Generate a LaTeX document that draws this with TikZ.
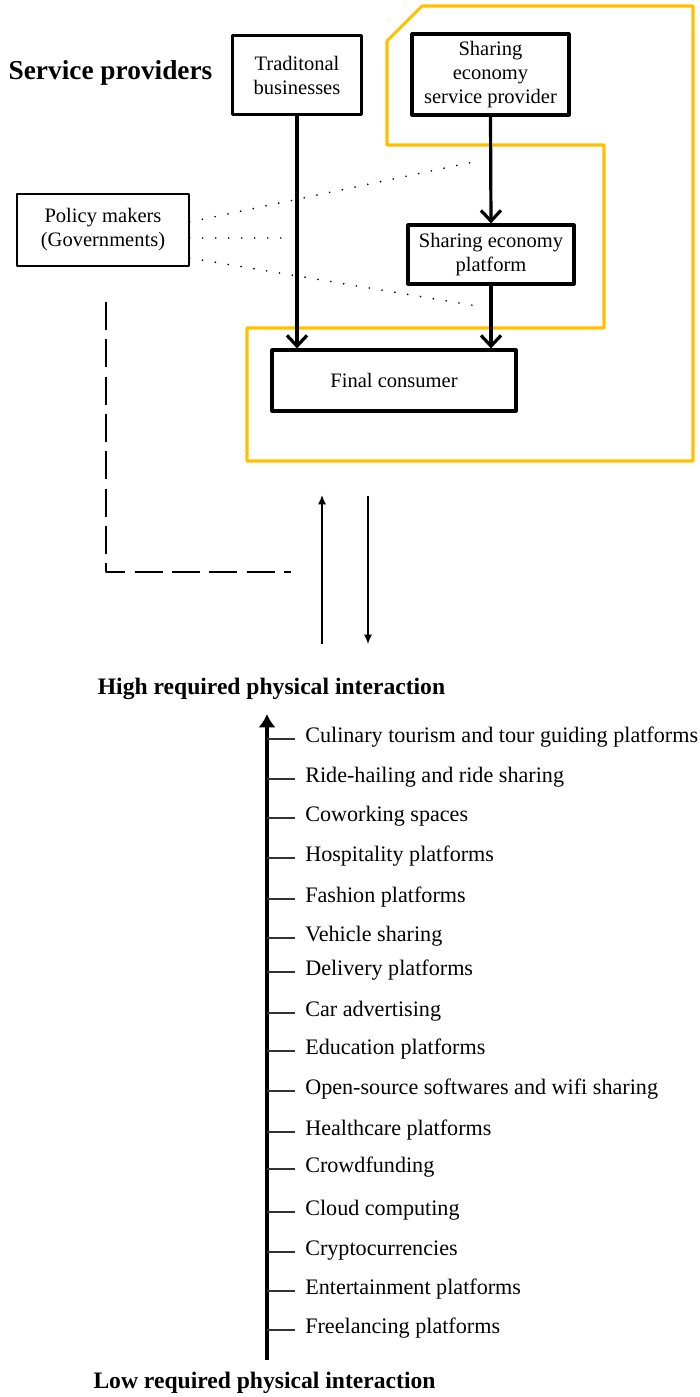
\documentclass[tikz,border=0pt]{standalone}
\usepackage{fontspec}
\setmainfont{Liberation Serif}
\usetikzlibrary{arrows.meta}
\definecolor{gold}{RGB}{255,192,0}

\begin{document}
\begin{tikzpicture}[x=0.75pt,y=-0.75pt, line join=round,
	box/.style={draw,line width=2.4pt,align=center,inner sep=0pt,font=\fontsize{15.4}{18}\selectfont},
	flow/.style={line width=2.4pt,-{Straight Barb[length=8pt,width=15pt]}},
	dotline/.style={line width=1.4pt,line cap=round,dash pattern=on 0pt off 9.75pt},
	thinarr/.style={line width=1pt,-{Latex[length=7pt,width=6pt]}},
	item/.style={anchor=west,inner xsep=7.5pt,inner ysep=0pt,font=\fontsize{16.6}{20}\selectfont,text height=0.7em,text depth=0.2em},
	head/.style={inner sep=0pt,font=\bfseries,text height=0.7em,text depth=0.2em}] %Sharing economy map
	\useasboundingbox (0,0) rectangle (700,1397);
	\draw[gold,line width=2.3pt] (387,41)--(422,6)--(693,6)--(693,461)--(247,461)--(247,328)--(604,328)--(604,145)--(387,145)--cycle;
	\node[head,font=\fontsize{20.5}{24}\selectfont\bfseries] (sp) at (110.5,76) {Service providers};
	\node[box,minimum width=96.75pt,minimum height=59.25pt] (trad) at (297,75) {Traditonal\\businesses};
	\node[box,minimum width=117.75pt,minimum height=60.75pt] (sesp) at (490.5,74.5) {Sharing\\economy\\service provider};
	\node[box,minimum width=124.5pt,minimum height=44.25pt] (sep) at (491,254.5) {Sharing economy\\platform};
	\node[box,minimum width=183pt,minimum height=45.75pt] (fc) at (394,380.5) {Final consumer};
	\node[box,line width=1.1pt,minimum width=129pt,minimum height=54pt] (pm) at (103,230) {Policy makers\\(Governments)};
	\draw[flow] (trad.south)--(trad.south |- fc.north);
	\draw[flow] (sesp.south)--(sep.north);
	\draw[flow] (sep.south)--(sep.south |- fc.north);
	% dotted links of the policy makers
	\coordinate (p1) at (478,161);
	\coordinate (p2) at (290,238);
	\coordinate (p3) at (477,306);
	\draw[dotline] ([yshift=6pt]pm.east)--(p1);
	\draw[dotline] ([yshift=-6pt]pm.east)--(p2);
	\draw[dotline] ([yshift=-21pt]pm.east)--(p3);
	\coordinate (g1) at (106,302);
	\coordinate (g2) at (291,572);
	\draw[line width=1.1pt,dash pattern=on 21pt off 7pt] (g1) |- (g2);
	\coordinate (u1) at (322,644);
	\coordinate (u2) at (322,495);
	\coordinate (d1) at (368,496);
	\coordinate (d2) at (368,644);
	\draw[thinarr] (u1)--(u2);
	\draw[thinarr] (d1)--(d2);
	% scale of physical interaction
	\node[head,font=\fontsize{17.7}{21}\selectfont\bfseries] (hi) at (271.5,691) {High required physical interaction};
	\node[head,font=\fontsize{17.7}{21}\selectfont\bfseries] (lo) at (264.5,1385) {Low required physical interaction};
	\coordinate (ax0) at (267,1360);
	\coordinate (ax1) at (267,714);
	\draw[line width=3pt,-{Latex[length=10pt,width=13pt]}] (ax0)--(ax1);
	\foreach \y/\t [count=\i] in {739/Culinary tourism and tour guiding platforms,779/Ride-hailing and ride sharing,818/Coworking spaces,858/Hospitality platforms,899/Fashion platforms,938/Vehicle sharing,972/Delivery platforms,1013/Car advertising,1051/Education platforms,1091/Open-source softwares and wifi sharing,1132/Healthcare platforms,1169/Crowdfunding,1212/Cloud computing,1252/Cryptocurrencies,1291/Entertainment platforms,1330/Freelancing platforms}
	{
		\node[item] (it\i) at (295,\y) {\t};
		\draw[line width=1.3pt,black!80] (ax0 |- it\i.west)--(it\i.west);
	}
\end{tikzpicture}
\end{document}
